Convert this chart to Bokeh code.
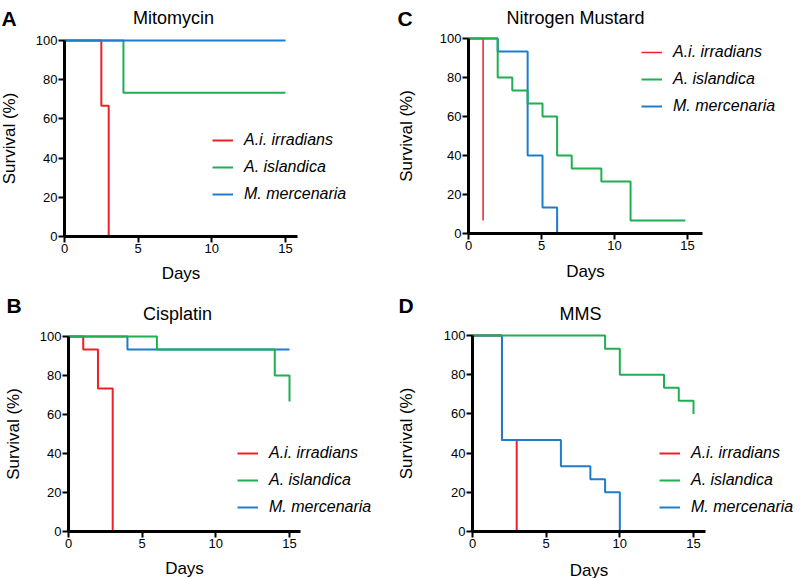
from bokeh.plotting import figure
from bokeh.models import Legend, LegendItem, Label, FixedTicker, Range1d, ColumnDataSource
from bokeh.layouts import row, column
from bokeh.embed import file_html
from bokeh.resources import INLINE

species = ["A.i. irradians", "A. islandica", "M. mercenaria"]
colors = ["#EE2027", "#1FAE50", "#1E7CCD"]
x_ticks = [0, 5, 10, 15]
y_ticks = [0, 20, 40, 60, 80, 100]

# Mitomycin
mito_irr_t = [0, 2.5, 3]
mito_irr_s = [100, 66.7, 0]
mito_isl_t = [0, 4, 15]
mito_isl_s = [100, 73.3, 73.3]
mito_mer_t = [0, 15]
mito_mer_s = [100, 100]

# Cisplatin
cis_irr_t = [0, 1, 2, 3]
cis_irr_s = [100, 93.3, 73.3, 0]
cis_isl_t = [0, 6, 14, 15]
cis_isl_s = [100, 93.3, 80, 66.7]
cis_mer_t = [0, 4, 15]
cis_mer_s = [100, 93.3, 93.3]

# Nitrogen Mustard
nm_irr_t = [0, 1]
nm_irr_s = [100, 6.7]
nm_isl_t = [0, 2, 3, 4.05, 5.07, 6.07, 7.07, 9.1, 11.1, 14.85]
nm_isl_s = [100, 80, 73.3, 66.7, 60, 40, 33.3, 26.7, 6.7, 6.7]
nm_mer_t = [0, 2, 4.05, 5.07, 6.07]
nm_mer_s = [100, 93.3, 40, 13.3, 0]

# MMS
mms_irr_t = [0, 2, 3]
mms_irr_s = [100, 46.7, 0]
mms_isl_t = [0, 9, 10, 13, 14, 15]
mms_isl_s = [100, 93.3, 80, 73.3, 66.7, 60]
mms_mer_t = [0, 2, 6, 8, 9, 10]
mms_mer_s = [100, 46.7, 33.3, 26.7, 20, 0]

FONT = "Liberation Sans"


def panel(box, anchors, xbound, curves, order, widths, title, letter,
          title_xy, letter_xy, legend_xy, ylab_standoff, xlab_standoff):
    fx, fy, w, h = box
    x0, x15, y0, y100 = anchors
    ppx = (x15 - x0) / 15.0
    ppy = (y0 - y100) / 100.0
    xr = Range1d(-(x0 - fx) / ppx, (fx + w - x0) / ppx)
    yr = Range1d(-(fy + h - y0) / ppy, (y0 - fy) / ppy)
    p = figure(width=w, height=h, x_range=xr, y_range=yr,
               output_backend="svg", toolbar_location=None, min_border=0)
    p.outline_line_color = None
    p.xgrid.visible = False
    p.ygrid.visible = False
    p.background_fill_color = "white"
    p.border_fill_color = "white"
    p.xaxis.ticker = FixedTicker(ticks=x_ticks)
    p.yaxis.ticker = FixedTicker(ticks=y_ticks)
    for ax in (p.xaxis[0], p.yaxis[0]):
        ax.fixed_location = 0
        ax.axis_line_width = 3
        ax.axis_line_color = "black"
        ax.major_tick_line_width = 2
        ax.major_tick_line_color = "black"
        ax.major_tick_out = 6
        ax.major_tick_in = 0
        ax.minor_tick_line_color = None
        ax.major_label_text_font = FONT
        ax.major_label_text_font_size = "13px"
        ax.major_label_text_color = "black"
        ax.major_label_standoff = 1
        ax.axis_label_text_font = FONT
        ax.axis_label_text_font_style = "normal"
        ax.axis_label_text_color = "black"
        ax.axis_label_text_font_size = "17px"
    p.xaxis.bounds = (0, xbound)
    p.yaxis.bounds = (0, 100)
    p.xaxis.axis_label = "Days"
    p.yaxis.axis_label = "Survival (%)"
    p.yaxis.axis_label_standoff = ylab_standoff
    p.xaxis.axis_label_standoff = xlab_standoff

    renderers = {}
    for i in order:
        tt, ss = curves[i]
        src = ColumnDataSource(dict(x=tt, y=ss))
        renderers[i] = p.step("x", "y", source=src, mode="after",
                              line_color=colors[i], line_width=widths[i])
    items = []
    for i in range(3):
        dot = p.scatter(x=[], y=[], marker="circle", size=3, color="black")
        items.append(LegendItem(label=species[i], renderers=[renderers[i], dot]))
    leg = Legend(items=items, location=legend_xy, orientation="vertical",
                 glyph_width=21, glyph_height=20, spacing=7, label_standoff=11,
                 padding=0, margin=0, border_line_color=None, background_fill_alpha=0,
                 label_text_font=FONT, label_text_font_style="italic",
                 label_text_font_size="16px", label_text_color="black")
    p.add_layout(leg, "center")

    p.add_layout(Label(x=title_xy[0], y=title_xy[1], x_units="screen", y_units="screen",
                       text=title, text_align="center", text_baseline="alphabetic",
                       text_font=FONT, text_font_size="18px", text_color="black"))
    p.add_layout(Label(x=letter_xy[0], y=letter_xy[1], x_units="screen", y_units="screen",
                       text=letter, text_align="left", text_baseline="alphabetic",
                       text_font=FONT, text_font_size="21px", text_font_style="bold",
                       text_color="black"))
    return p


pA = panel((0, 0, 396, 289), (64, 285, 236, 40), 15.8,
           [(mito_irr_t, mito_irr_s), (mito_isl_t, mito_isl_s), (mito_mer_t, mito_mer_s)],
           [0, 1, 2], [2, 2, 2], "Mitomycin", "A", (173, 272), (1, 271), (212, 85), 14, 8)
pB = panel((0, 289, 396, 289), (68, 289, 531, 336), 15.75,
           [(cis_irr_t, cis_irr_s), (cis_isl_t, cis_isl_s), (cis_mer_t, cis_mer_s)],
           [0, 2, 1], [2, 2, 2], "Cisplatin", "B", (177, 265), (6, 273), (237, 61), 14, 8)
pC = panel((396, 0, 404, 289), (468, 687, 233, 38), 16.03,
           [(nm_irr_t, nm_irr_s), (nm_isl_t, nm_isl_s), (nm_mer_t, nm_mer_s)],
           [0, 2, 1], [1.5, 2, 2], "Nitrogen Mustard", "C", (179, 272), (1, 271), (245, 173), 21, 9)
pD = panel((396, 289, 404, 289), (472, 693, 531, 335), 15.8,
           [(mms_irr_t, mms_irr_s), (mms_isl_t, mms_isl_s), (mms_mer_t, mms_mer_s)],
           [0, 2, 1], [2, 2, 2], "MMS", "D", (184, 265), (2, 273), (263, 61), 25, 10)

layout = row(column(pA, pB), column(pC, pD))
open("out.html", "w").write(file_html(layout, INLINE))
